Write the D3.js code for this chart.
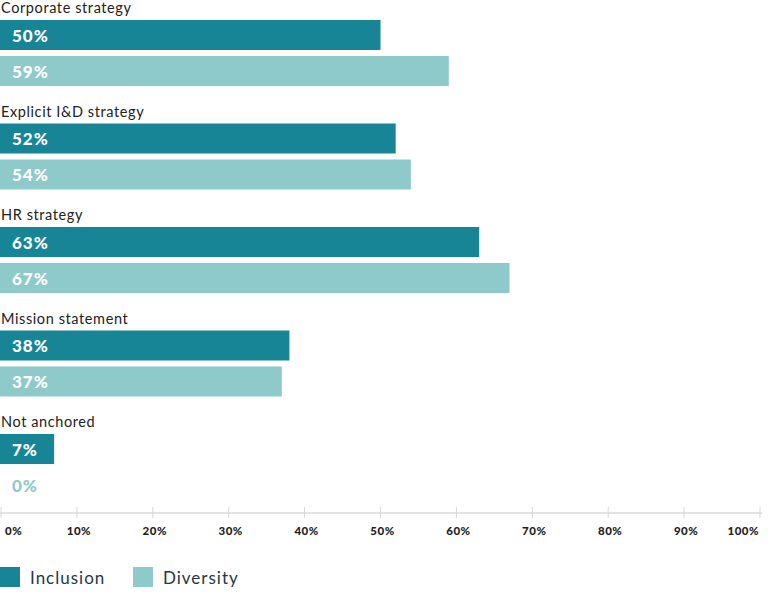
<!DOCTYPE html>
<html><head><meta charset="utf-8">
<script src="https://cdn.jsdelivr.net/npm/d3@7"></script>
<style>body{margin:0;background:#fff}svg{display:block}</style>
</head><body>
<script>
const categories = ["Corporate strategy","Explicit I&D strategy","HR strategy","Mission statement","Not anchored"];
const seriesNames = ["Inclusion","Diversity"];
const inclusion = [50,52,63,38,7];
const diversity = [59,54,67,37,0];
const tickValues = [0,10,20,30,40,50,60,70,80,90,100];
const colors = {Inclusion:"#178596", Diversity:"#8fcaca"};

const W=768,H=597;
const svg=d3.select("body").append("svg").attr("width",W).attr("height",H);
const x=d3.scaleLinear().domain([0,100]).range([1,760]);
const y=d3.scaleBand().domain(categories).range([0,517.5]);
const ys=d3.scaleBand().domain(seriesNames).range([20,86]).paddingInner(1/6);
const font="Lato, 'Noto Sans', sans-serif";
const data=categories.map((c,i)=>({cat:c, vals:[{s:"Inclusion",v:inclusion[i]},{s:"Diversity",v:diversity[i]}]}));

const g=svg.selectAll("g.grp").data(data).join("g").attr("transform",d=>`translate(0,${y(d.cat)})`);
g.append("text").attr("x",1).attr("y",13).text(d=>d.cat)
 .attr("font-family",font).attr("font-size",14.5).attr("fill","#222").attr("letter-spacing",0.6);
const b=g.selectAll("g.bar").data(d=>d.vals).join("g");
b.append("rect").attr("x",0).attr("y",d=>ys(d.s)).attr("height",ys.bandwidth())
 .attr("width",d=>d.v>0?x(d.v):0).attr("fill",d=>colors[d.s]);
b.append("text").attr("x",12).attr("y",d=>ys(d.s)+ys.bandwidth()/2).attr("dominant-baseline","central")
 .text(d=>d.v+"%").attr("font-family",font).attr("font-weight",900).attr("font-size",17)
 .attr("fill",d=>d.v===0?colors[d.s]:"#fff").attr("letter-spacing",1);

// axis
const ax=svg.append("g").attr("transform","translate(0,513)");
ax.append("line").attr("x1",0).attr("x2",762).attr("stroke","#e3e3e3").attr("stroke-width",2);
ax.selectAll("line.t").data(tickValues).join("line").attr("x1",d=>x(d)).attr("x2",d=>x(d))
 .attr("y1",-6).attr("y2",5).attr("stroke","#d8d8d8");
ax.selectAll("text").data(tickValues).join("text")
 .attr("x",(d,i)=>i===0?5:i===tickValues.length-1?759:x(d)+2)
 .attr("text-anchor",(d,i)=>i===0?"start":i===tickValues.length-1?"end":"middle")
 .attr("y",22).text(d=>d+"%").attr("font-family",font).attr("font-weight",900).attr("font-size",11.5).attr("fill","#222").attr("letter-spacing",0.5);

// legend
const lg=svg.append("g").attr("transform","translate(0,567)");
const li=lg.selectAll("g").data(seriesNames).join("g").attr("transform",(d,i)=>`translate(${i*133},0)`);
li.append("rect").attr("width",20).attr("height",20).attr("fill",d=>colors[d]);
li.append("text").attr("x",30).attr("y",10).attr("dominant-baseline","central").text(d=>d)
 .attr("font-family",font).attr("font-size",17).attr("fill","#1d3944").attr("letter-spacing",1);
</script>
</body></html>
